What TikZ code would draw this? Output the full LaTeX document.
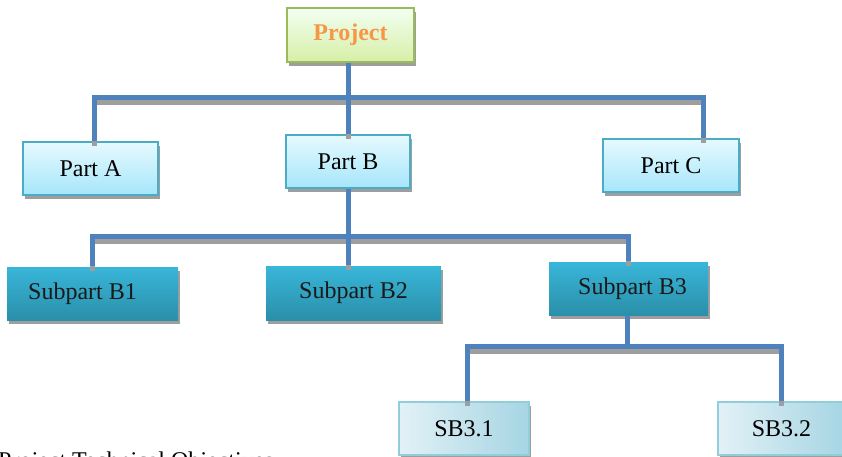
\documentclass[tikz,border=0pt]{standalone}
\usepackage{fontspec}
\setmainfont{Liberation Serif}
\usetikzlibrary{shadows}

\definecolor{linkblue}{HTML}{4F81BD}
\definecolor{partedge}{HTML}{4BACC6}
\definecolor{prjedge}{HTML}{9BBB59}
\definecolor{prjtext}{HTML}{F79646}

\begin{document}
\begin{tikzpicture}[x=1pt,y=-1pt,font=\fontsize{24}{27}\selectfont]

  \tikzstyle{box}=[rectangle,inner sep=0pt,line width=1.3pt,
                   drop shadow={shadow xshift=2pt,shadow yshift=-4pt,fill=black!38,opacity=1}]
  \tikzstyle{prjbox}=[box,draw=prjedge,top color=green!5!white,bottom color={rgb,255:red,214;green,239;blue,166},
                      text=prjtext,font=\fontsize{24}{27}\selectfont\bfseries]
  \tikzstyle{partbox}=[box,draw=partedge,top color={rgb,255:red,230;green,249;blue,255},
                       bottom color={rgb,255:red,166;green,230;blue,250}]
  \tikzstyle{subbox}=[box,top color={rgb,255:red,56;green,182;blue,217},
                      bottom color={rgb,255:red,43;green,143;blue,169},text=black!90]
  \tikzstyle{sbbox}=[box,draw={rgb,255:red,146;green,205;blue,220},
                     left color={rgb,255:red,226;green,241;blue,246},
                     right color={rgb,255:red,166;green,213;blue,227}]
  \tikzstyle{link}=[line width=5pt,draw=linkblue]
  \tikzstyle{linkshadow}=[line width=5pt,draw=black!38,transform canvas={yshift=-5pt}]

  \useasboundingbox (0,0) rectangle (842,456);
  \clip (0,0) rectangle (842,456);

  % boxes
  \node[prjbox,minimum width=127pt,minimum height=54pt]  (PRJ) at (350.5,35)   {Project};

  \node[partbox,minimum width=135pt,minimum height=53pt] (PA)  at (90.5,168.5) {Part A};
  \node[partbox,minimum width=124pt,minimum height=53pt] (PB)  at (348,161.5)  {Part B};
  \node[partbox,minimum width=136pt,minimum height=53pt] (PC)  at (671,165.5)  {Part C};

  \node[subbox,minimum width=171pt,minimum height=53pt]  (SB1) at (92.5,293.5) {\hspace*{-20pt}Subpart B1};
  \node[subbox,minimum width=175pt,minimum height=54pt]  (SB2) at (353.5,293)  {Subpart B2};
  \node[subbox,minimum width=159pt,minimum height=53pt]  (SB3) at (628.5,288.5) {\hspace*{8pt}Subpart B3};

  \node[sbbox,minimum width=130pt,minimum height=53pt]   (S31) at (464,428.5)  {SB3.1};
  \node[sbbox,minimum width=127pt,minimum height=53pt]   (S32) at (781.5,428.5) {SB3.2};

  \node[anchor=base west,inner sep=0pt] (OBJ) at (-2,468) {Project Technical Objectives};

  \coordinate (J1) at (348,97);
  \coordinate (J2) at (348,236);
  \coordinate (J3) at (627,346);

  % connectors: shadow first, then the blue line
  \foreach \s in {linkshadow,link} {
    \draw[\s] (J1 |- PRJ.south) -- (J1);
    \draw[\s] (J1) -| ([xshift=4pt]PA.north);
    \draw[\s] (J1) -- (PB.north);
    \draw[\s] (J1) -| ([xshift=32pt]PC.north);

    \draw[\s] (PB.south) -- (J2);
    \draw[\s] (J2) -| (SB1.north);
    \draw[\s] (J2) -- (J2 |- SB2.north);
    \draw[\s] (J2) -| (SB3.north);

    \draw[\s] (J3 |- SB3.south) -- (J3);
    \draw[\s] (J3) -| ([xshift=3pt]S31.north);
    \draw[\s] (J3) -| (S32.north);
  }
\end{tikzpicture}
\end{document}
